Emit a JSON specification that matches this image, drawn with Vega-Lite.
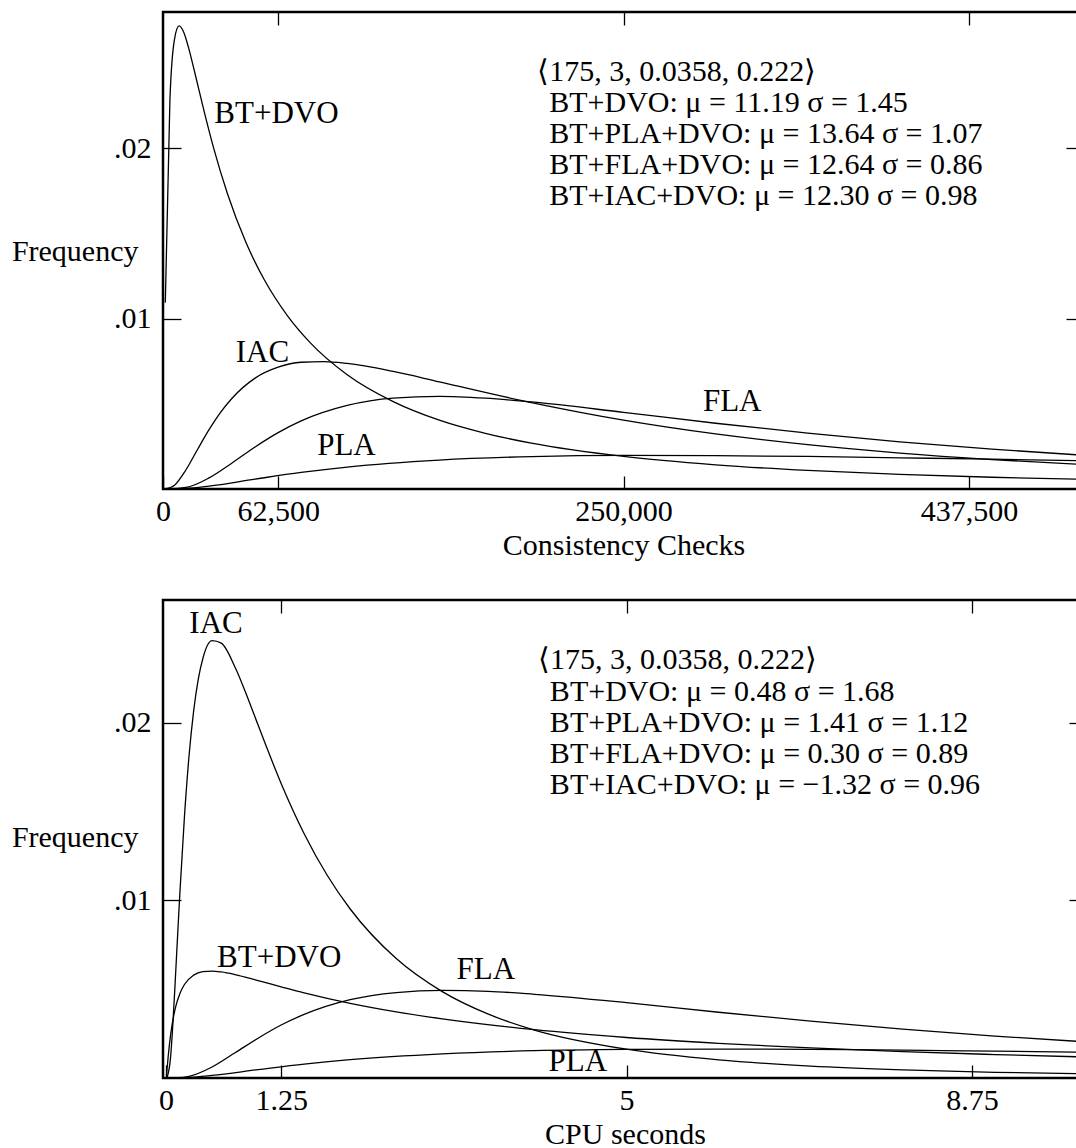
{
  "$schema": "https://vega.github.io/schema/vega-lite/v6.json",
  "background": "white",
  "padding": {"left": 10, "top": 10, "right": 0, "bottom": 0},
  "spacing": 36,
  "config": {
    "font": "Liberation Serif",
    "view": {"stroke": "black", "strokeWidth": 2.5},
    "axis": {"grid": false, "domain": false, "tickColor": "black", "tickWidth": 1.3, "labelFont": "Liberation Serif", "titleFont": "Liberation Serif", "labelFontSize": 30, "titleFontSize": 30, "labelColor": "black", "titleColor": "black", "titleFontWeight": "normal", "labelFlush": false, "labelOverlap": false},
    "text": {"font": "Liberation Serif", "color": "black"}
  },
  "datasets": {
    "checks": [
      {"curve": "BT+DVO", "x": 1250, "f": 0.01094}, {"curve": "BT+DVO", "x": 3750, "f": 0.02282}, {"curve": "BT+DVO", "x": 6250, "f": 0.02641}, {"curve": "BT+DVO", "x": 8750, "f": 0.02718}, {"curve": "BT+DVO", "x": 11250, "f": 0.02681}, {"curve": "BT+DVO", "x": 13750, "f": 0.02595}, {"curve": "BT+DVO", "x": 17500, "f": 0.02433}, {"curve": "BT+DVO", "x": 22500, "f": 0.02209}, {"curve": "BT+DVO", "x": 27500, "f": 0.02001}, {"curve": "BT+DVO", "x": 35000, "f": 0.01733}, {"curve": "BT+DVO", "x": 45000, "f": 0.01448}, {"curve": "BT+DVO", "x": 55000, "f": 0.01228}, {"curve": "BT+DVO", "x": 67500, "f": 0.01018}, {"curve": "BT+DVO", "x": 80000, "f": 0.00858}, {"curve": "BT+DVO", "x": 100000, "f": 0.00671}, {"curve": "BT+DVO", "x": 125000, "f": 0.00513}, {"curve": "BT+DVO", "x": 150000, "f": 0.00404}, {"curve": "BT+DVO", "x": 175000, "f": 0.00327}, {"curve": "BT+DVO", "x": 200000, "f": 0.00269}, {"curve": "BT+DVO", "x": 250000, "f": 0.00191}, {"curve": "BT+DVO", "x": 300000, "f": 0.00142}, {"curve": "BT+DVO", "x": 350000, "f": 0.00109}, {"curve": "BT+DVO", "x": 400000, "f": 0.00086}, {"curve": "BT+DVO", "x": 450000, "f": 0.00069}, {"curve": "BT+DVO", "x": 500000, "f": 0.00057},
      {"curve": "PLA", "x": 1250, "f": 0}, {"curve": "PLA", "x": 12500, "f": 0.00003}, {"curve": "PLA", "x": 25000, "f": 0.00017}, {"curve": "PLA", "x": 50000, "f": 0.00058}, {"curve": "PLA", "x": 75000, "f": 0.00097}, {"curve": "PLA", "x": 100000, "f": 0.00129}, {"curve": "PLA", "x": 150000, "f": 0.0017}, {"curve": "PLA", "x": 200000, "f": 0.0019}, {"curve": "PLA", "x": 250000, "f": 0.00197}, {"curve": "PLA", "x": 300000, "f": 0.00196}, {"curve": "PLA", "x": 350000, "f": 0.00191}, {"curve": "PLA", "x": 400000, "f": 0.00183}, {"curve": "PLA", "x": 450000, "f": 0.00175}, {"curve": "PLA", "x": 500000, "f": 0.00166},
      {"curve": "FLA", "x": 1250, "f": 0}, {"curve": "FLA", "x": 12500, "f": 0.00009}, {"curve": "FLA", "x": 25000, "f": 0.00065}, {"curve": "FLA", "x": 37500, "f": 0.00153}, {"curve": "FLA", "x": 50000, "f": 0.00247}, {"curve": "FLA", "x": 62500, "f": 0.00331}, {"curve": "FLA", "x": 75000, "f": 0.004}, {"curve": "FLA", "x": 100000, "f": 0.00491}, {"curve": "FLA", "x": 125000, "f": 0.00534}, {"curve": "FLA", "x": 150000, "f": 0.00544}, {"curve": "FLA", "x": 175000, "f": 0.00533}, {"curve": "FLA", "x": 200000, "f": 0.00511}, {"curve": "FLA", "x": 250000, "f": 0.0045}, {"curve": "FLA", "x": 300000, "f": 0.00386}, {"curve": "FLA", "x": 350000, "f": 0.00328}, {"curve": "FLA", "x": 400000, "f": 0.00277}, {"curve": "FLA", "x": 450000, "f": 0.00234}, {"curve": "FLA", "x": 500000, "f": 0.00198},
      {"curve": "IAC", "x": 1250, "f": 0}, {"curve": "IAC", "x": 6250, "f": 0.00022}, {"curve": "IAC", "x": 12500, "f": 0.00113}, {"curve": "IAC", "x": 18750, "f": 0.00232}, {"curve": "IAC", "x": 25000, "f": 0.00348}, {"curve": "IAC", "x": 31250, "f": 0.0045}, {"curve": "IAC", "x": 37500, "f": 0.00533}, {"curve": "IAC", "x": 50000, "f": 0.00651}, {"curve": "IAC", "x": 62500, "f": 0.00715}, {"curve": "IAC", "x": 75000, "f": 0.00744}, {"curve": "IAC", "x": 87500, "f": 0.00748}, {"curve": "IAC", "x": 100000, "f": 0.00737}, {"curve": "IAC", "x": 125000, "f": 0.0069}, {"curve": "IAC", "x": 150000, "f": 0.00629}, {"curve": "IAC", "x": 200000, "f": 0.00507}, {"curve": "IAC", "x": 250000, "f": 0.00404}, {"curve": "IAC", "x": 300000, "f": 0.00323}, {"curve": "IAC", "x": 350000, "f": 0.0026}, {"curve": "IAC", "x": 400000, "f": 0.00211}, {"curve": "IAC", "x": 450000, "f": 0.00173}, {"curve": "IAC", "x": 500000, "f": 0.00143}
    ],
    "checksLabels": [
      {"x": 61600, "f": 0.02202, "t": "BT+DVO"},
      {"x": 54000, "f": 0.00801, "t": "IAC"},
      {"x": 99600, "f": 0.00255, "t": "PLA"},
      {"x": 309000, "f": 0.00513, "t": "FLA"}
    ],
    "checksNotes": [
      {"x": 203200, "f": 0.02449, "t": "⟨175, 3, 0.0358, 0.222⟩"},
      {"x": 209700, "f": 0.02267, "t": "BT+DVO: μ = 11.19 σ = 1.45"},
      {"x": 209700, "f": 0.02085, "t": "BT+PLA+DVO: μ = 13.64 σ = 1.07"},
      {"x": 209700, "f": 0.01903, "t": "BT+FLA+DVO: μ = 12.64 σ = 0.86"},
      {"x": 209700, "f": 0.01721, "t": "BT+IAC+DVO: μ = 12.30 σ = 0.98"}
    ],
    "cpu": [
      {"curve": "IAC", "x": 0.01, "f": 0}, {"curve": "IAC", "x": 0.05, "f": 0.00119}, {"curve": "IAC", "x": 0.075, "f": 0.00308}, {"curve": "IAC", "x": 0.1, "f": 0.00543}, {"curve": "IAC", "x": 0.125, "f": 0.00792}, {"curve": "IAC", "x": 0.15, "f": 0.01035}, {"curve": "IAC", "x": 0.2, "f": 0.01469}, {"curve": "IAC", "x": 0.25, "f": 0.01812}, {"curve": "IAC", "x": 0.3, "f": 0.02065}, {"curve": "IAC", "x": 0.35, "f": 0.02243}, {"curve": "IAC", "x": 0.4, "f": 0.02361}, {"curve": "IAC", "x": 0.5, "f": 0.02461}, {"curve": "IAC", "x": 0.6, "f": 0.02447}, {"curve": "IAC", "x": 0.75, "f": 0.02312}, {"curve": "IAC", "x": 0.9, "f": 0.02122}, {"curve": "IAC", "x": 1.0, "f": 0.01986}, {"curve": "IAC", "x": 1.25, "f": 0.01658}, {"curve": "IAC", "x": 1.5, "f": 0.01375}, {"curve": "IAC", "x": 1.75, "f": 0.01141}, {"curve": "IAC", "x": 2.0, "f": 0.00951}, {"curve": "IAC", "x": 2.5, "f": 0.00672}, {"curve": "IAC", "x": 3.0, "f": 0.00486}, {"curve": "IAC", "x": 3.5, "f": 0.00359}, {"curve": "IAC", "x": 4.0, "f": 0.0027}, {"curve": "IAC", "x": 5.0, "f": 0.00162}, {"curve": "IAC", "x": 6.0, "f": 0.00102}, {"curve": "IAC", "x": 7.0, "f": 0.00067}, {"curve": "IAC", "x": 8.0, "f": 0.00046}, {"curve": "IAC", "x": 9.0, "f": 0.00032}, {"curve": "IAC", "x": 10.0, "f": 0.00023},
      {"curve": "BT+DVO", "x": 0.005, "f": 0.00015}, {"curve": "BT+DVO", "x": 0.01, "f": 0.00042}, {"curve": "BT+DVO", "x": 0.025, "f": 0.00128}, {"curve": "BT+DVO", "x": 0.05, "f": 0.00243}, {"curve": "BT+DVO", "x": 0.1, "f": 0.0039}, {"curve": "BT+DVO", "x": 0.15, "f": 0.00474}, {"curve": "BT+DVO", "x": 0.2, "f": 0.00526}, {"curve": "BT+DVO", "x": 0.3, "f": 0.00579}, {"curve": "BT+DVO", "x": 0.4, "f": 0.00599}, {"curve": "BT+DVO", "x": 0.5, "f": 0.00602}, {"curve": "BT+DVO", "x": 0.6, "f": 0.00597}, {"curve": "BT+DVO", "x": 0.75, "f": 0.00582}, {"curve": "BT+DVO", "x": 1.0, "f": 0.00548}, {"curve": "BT+DVO", "x": 1.25, "f": 0.00513}, {"curve": "BT+DVO", "x": 1.5, "f": 0.00479}, {"curve": "BT+DVO", "x": 2.0, "f": 0.0042}, {"curve": "BT+DVO", "x": 2.5, "f": 0.00372}, {"curve": "BT+DVO", "x": 3.0, "f": 0.00333}, {"curve": "BT+DVO", "x": 4.0, "f": 0.00272}, {"curve": "BT+DVO", "x": 5.0, "f": 0.00228}, {"curve": "BT+DVO", "x": 6.0, "f": 0.00195}, {"curve": "BT+DVO", "x": 7.0, "f": 0.00169}, {"curve": "BT+DVO", "x": 8.0, "f": 0.00148}, {"curve": "BT+DVO", "x": 9.0, "f": 0.00132}, {"curve": "BT+DVO", "x": 10.0, "f": 0.00118},
      {"curve": "FLA", "x": 0.1, "f": 0}, {"curve": "FLA", "x": 0.25, "f": 0.00009}, {"curve": "FLA", "x": 0.5, "f": 0.00062}, {"curve": "FLA", "x": 0.75, "f": 0.00142}, {"curve": "FLA", "x": 1.0, "f": 0.00224}, {"curve": "FLA", "x": 1.25, "f": 0.00298}, {"curve": "FLA", "x": 1.5, "f": 0.00358}, {"curve": "FLA", "x": 2.0, "f": 0.00441}, {"curve": "FLA", "x": 2.5, "f": 0.00481}, {"curve": "FLA", "x": 3.0, "f": 0.00493}, {"curve": "FLA", "x": 3.5, "f": 0.00488}, {"curve": "FLA", "x": 4.0, "f": 0.00471}, {"curve": "FLA", "x": 5.0, "f": 0.00424}, {"curve": "FLA", "x": 6.0, "f": 0.0037}, {"curve": "FLA", "x": 7.0, "f": 0.0032}, {"curve": "FLA", "x": 8.0, "f": 0.00275}, {"curve": "FLA", "x": 9.0, "f": 0.00236}, {"curve": "FLA", "x": 10.0, "f": 0.00203},
      {"curve": "PLA", "x": 0.1, "f": 0}, {"curve": "PLA", "x": 0.25, "f": 0.00003}, {"curve": "PLA", "x": 0.5, "f": 0.00015}, {"curve": "PLA", "x": 1.0, "f": 0.00047}, {"curve": "PLA", "x": 1.5, "f": 0.00078}, {"curve": "PLA", "x": 2.0, "f": 0.00103}, {"curve": "PLA", "x": 3.0, "f": 0.00136}, {"curve": "PLA", "x": 4.0, "f": 0.00154}, {"curve": "PLA", "x": 5.0, "f": 0.00161}, {"curve": "PLA", "x": 6.0, "f": 0.00163}, {"curve": "PLA", "x": 7.0, "f": 0.00161}, {"curve": "PLA", "x": 8.0, "f": 0.00157}, {"curve": "PLA", "x": 9.0, "f": 0.00151}, {"curve": "PLA", "x": 10.0, "f": 0.00145}
    ],
    "cpuLabels": [
      {"x": 0.543, "f": 0.02553, "t": "IAC"},
      {"x": 1.229, "f": 0.00674, "t": "BT+DVO"},
      {"x": 3.473, "f": 0.00606, "t": "FLA"},
      {"x": 4.472, "f": 0.00088, "t": "PLA"}
    ],
    "cpuNotes": [
      {"x": 4.038, "f": 0.02351, "t": "⟨175, 3, 0.0358, 0.222⟩"},
      {"x": 4.168, "f": 0.02171, "t": "BT+DVO: μ = 0.48 σ = 1.68"},
      {"x": 4.168, "f": 0.01996, "t": "BT+PLA+DVO: μ = 1.41 σ = 1.12"},
      {"x": 4.168, "f": 0.01822, "t": "BT+FLA+DVO: μ = 0.30 σ = 0.89"},
      {"x": 4.168, "f": 0.01647, "t": "BT+IAC+DVO: μ = −1.32 σ = 0.96"}
    ]
  },
  "vconcat": [
    {
      "width": 921,
      "height": 477,
      "layer": [
        {
          "data": {"name": "checks"},
          "mark": {"type": "line", "color": "black", "strokeWidth": 1.3, "interpolate": "monotone"},
          "encoding": {
            "x": {"field": "x", "type": "quantitative", "scale": {"domain": [0, 500000], "nice": false, "zero": false},
              "axis": {"orient": "bottom", "values": [0, 62500, 250000, 437500], "labelExpr": "format(datum.value, ',')", "tickSize": -13, "labelPadding": 20, "title": "Consistency Checks", "titlePadding": 4}},
            "y": {"field": "f", "type": "quantitative", "scale": {"domain": [0, 0.028], "nice": false},
              "axis": {"orient": "left", "values": [0.01, 0.02], "labelExpr": "slice(format(datum.value, '.2f'), 1)", "tickSize": -18, "labelPadding": 30, "title": "Frequency", "titleAngle": 0, "titleAlign": "right", "titleBaseline": "middle", "titleX": -25, "titleY": 239}},
            "detail": {"field": "curve", "type": "nominal"}
          }
        },
        {
          "data": {"name": "checksLabels"},
          "mark": {"type": "text", "fontSize": 31, "align": "center", "baseline": "middle"},
          "encoding": {
            "x": {"field": "x", "type": "quantitative", "axis": {"orient": "top", "values": [62500, 250000, 437500], "labels": false, "tickSize": -13, "title": null}},
            "y": {"field": "f", "type": "quantitative", "axis": {"orient": "right", "values": [0.01, 0.02], "labels": false, "tickSize": -18, "title": null}},
            "text": {"field": "t"}
          }
        },
        {
          "data": {"name": "checksNotes"},
          "mark": {"type": "text", "fontSize": 30, "align": "left", "baseline": "middle"},
          "encoding": {
            "x": {"field": "x", "type": "quantitative", "axis": null},
            "y": {"field": "f", "type": "quantitative", "axis": null},
            "text": {"field": "t"}
          }
        }
      ],
      "resolve": {"axis": {"x": "independent", "y": "independent"}}
    },
    {
      "width": 924,
      "height": 478,
      "layer": [
        {
          "data": {"name": "cpu"},
          "mark": {"type": "line", "color": "black", "strokeWidth": 1.3, "interpolate": "monotone"},
          "encoding": {
            "x": {"field": "x", "type": "quantitative", "scale": {"domain": [-0.0326, 10], "nice": false, "zero": false},
              "axis": {"orient": "bottom", "values": [0, 1.25, 5, 8.75], "labelExpr": "format(datum.value, '~g')", "tickSize": -13, "labelPadding": 20, "title": "CPU seconds", "titlePadding": 4}},
            "y": {"field": "f", "type": "quantitative", "scale": {"domain": [0, 0.0269], "nice": false},
              "axis": {"orient": "left", "values": [0.01, 0.02], "labelExpr": "slice(format(datum.value, '.2f'), 1)", "tickSize": -18, "labelPadding": 30, "title": "Frequency", "titleAngle": 0, "titleAlign": "right", "titleBaseline": "middle", "titleX": -25, "titleY": 237}},
            "detail": {"field": "curve", "type": "nominal"}
          }
        },
        {
          "data": {"name": "cpuLabels"},
          "mark": {"type": "text", "fontSize": 31, "align": "center", "baseline": "middle"},
          "encoding": {
            "x": {"field": "x", "type": "quantitative", "axis": {"orient": "top", "values": [1.25, 5, 8.75], "labels": false, "tickSize": -13, "title": null}},
            "y": {"field": "f", "type": "quantitative", "axis": {"orient": "right", "values": [0.01, 0.02], "labels": false, "tickSize": -18, "title": null}},
            "text": {"field": "t"}
          }
        },
        {
          "data": {"name": "cpuNotes"},
          "mark": {"type": "text", "fontSize": 30, "align": "left", "baseline": "middle"},
          "encoding": {
            "x": {"field": "x", "type": "quantitative", "axis": null},
            "y": {"field": "f", "type": "quantitative", "axis": null},
            "text": {"field": "t"}
          }
        }
      ],
      "resolve": {"axis": {"x": "independent", "y": "independent"}}
    }
  ]
}
